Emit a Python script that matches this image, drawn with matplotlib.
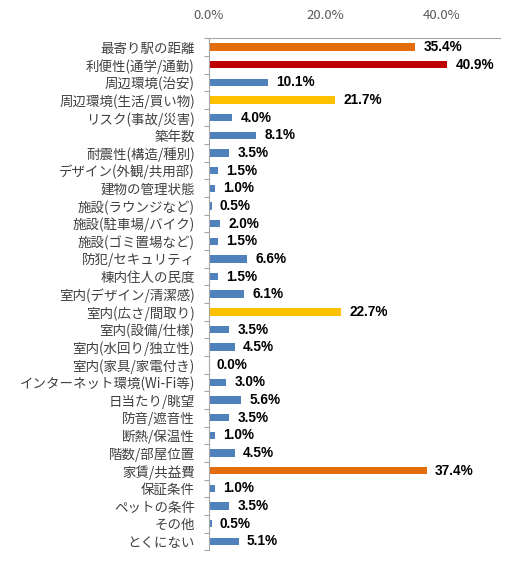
import numpy as np
import matplotlib
matplotlib.use('Agg')
import matplotlib.pyplot as plt
from matplotlib.ticker import FixedLocator

plt.rcParams['font.family'] = ['Noto Sans CJK JP', 'DejaVu Sans']

# data
LABELS = [
    '最寄り駅の距離', '利便性(通学/通勤)', '周辺環境(治安)', '周辺環境(生活/買い物)',
    'リスク(事故/災害)', '築年数', '耐震性(構造/種別)', 'デザイン(外観/共用部)',
    '建物の管理状態', '施設(ラウンジなど)', '施設(駐車場/バイク)', '施設(ゴミ置場など)',
    '防犯/セキュリティ', '棟内住人の民度', '室内(デザイン/清潔感)', '室内(広さ/間取り)',
    '室内(設備/仕様)', '室内(水回り/独立性)', '室内(家具/家電付き)', 'インターネット環境(Wi-Fi等)',
    '日当たり/眺望', '防音/遮音性', '断熱/保温性', '階数/部屋位置',
    '家賃/共益費', '保証条件', 'ペットの条件', 'その他', 'とくにない',
]
VALUES = [35.4, 40.9, 10.1, 21.7, 4.0, 8.1, 3.5, 1.5, 1.0, 0.5, 2.0, 1.5,
          6.6, 1.5, 6.1, 22.7, 3.5, 4.5, 0.0, 3.0, 5.6, 3.5, 1.0, 4.5,
          37.4, 1.0, 3.5, 0.5, 5.1]
# colour group per bar: b=blue, o=orange, r=red, y=yellow
GROUPS = ['o', 'r', 'b', 'y', 'b', 'b', 'b', 'b', 'b', 'b', 'b', 'b',
          'b', 'b', 'b', 'y', 'b', 'b', 'b', 'b', 'b', 'b', 'b', 'b',
          'o', 'b', 'b', 'b', 'b']
XTICKS = [0, 20, 40]

COLS = {'b': '#4F81BD', 'o': '#E46C0A', 'r': '#C00000', 'y': '#FFC000'}

fig = plt.figure(figsize=(5.13, 5.62), dpi=100)
ax = fig.add_axes([0.407, 0.021, 0.568, 0.911])

n = len(LABELS)
ypos = np.arange(n)
ax.barh(ypos, VALUES, height=0.42, color=[COLS[g] for g in GROUPS])

for y, v in zip(ypos, VALUES):
    ax.text(v + 1.4, y, '%.1f%%' % v, va='center', ha='left',
            fontsize=9.8, fontweight='bold', color='#000000',
            family=['Liberation Sans', 'DejaVu Sans'])

ax.set_xlim(0, 50)
ax.set_ylim(n - 0.5, -0.5)

ax.xaxis.tick_top()
ax.set_xticks(XTICKS)
ax.set_xticklabels(['%.1f%%' % t for t in XTICKS], color='#595959', fontsize=9.5)
ax.tick_params(axis='x', length=0, pad=12)

ax.set_yticks(ypos)
ax.set_yticklabels(LABELS, color='#404040', fontsize=9.7)
ax.tick_params(axis='y', which='major', length=0, pad=10)
ax.yaxis.set_minor_locator(FixedLocator(np.arange(n + 1) - 0.5))
ax.tick_params(axis='y', which='minor', length=3.5, color='#A6A6A6', width=0.8)

for s in ['right', 'bottom']:
    ax.spines[s].set_visible(False)
ax.spines['left'].set_color('#A6A6A6')
ax.spines['top'].set_color('#A6A6A6')

fig.savefig('out.png', dpi=100)
